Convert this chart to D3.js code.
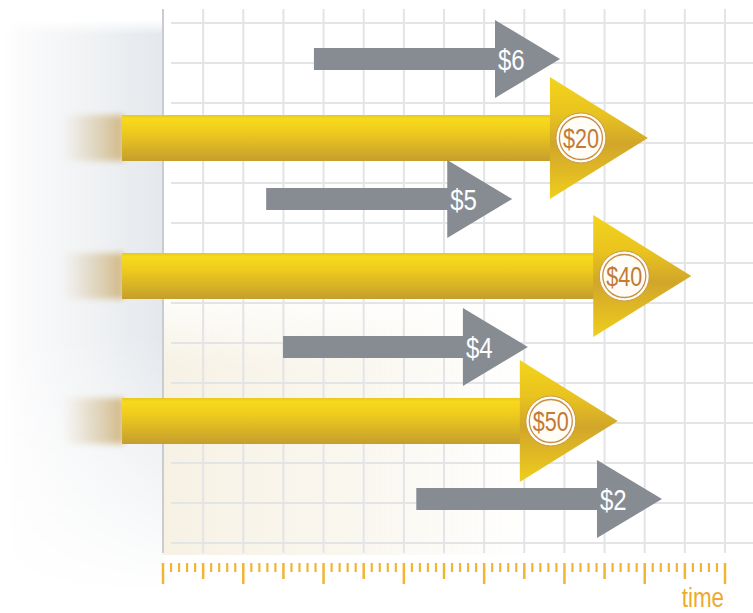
<!DOCTYPE html>
<html>
<head>
<meta charset="utf-8">
<script src="https://cdn.jsdelivr.net/npm/d3@7"></script>
<style>
  html, body { margin: 0; padding: 0; background: #ffffff; }
  svg { display: block; }
</style>
</head>
<body>
<div id="chart"></div>
<script>
// ---- data ----
const labels = ["$6", "$20", "$5", "$40", "$4", "$50", "$2"];
const kinds  = ["gray", "gold", "gray", "gold", "gray", "gold", "gray"];
const starts = [3.76, -1.02, 2.57, -1.02, 2.99, -1.02, 6.31];   // time units
const ends   = [9.89, 12.08, 8.70, 13.16, 9.09, 11.33, 12.43];  // time units (arrow tip)
const lanes  = [0.9, 2.875, 4.4, 6.325, 8.1, 9.95, 11.9];       // row position
const timeTicks = d3.range(0, 15);                                // major ruler ticks
const axisLabel = "time";

// ---- layout ----
const W = 753, H = 613;
const x = d3.scaleLinear().domain([0, 14]).range([163, 725]);
const y = d3.scaleLinear().domain([0, 13]).range([23, 543]);
const font = "'Liberation Sans', Arial, sans-serif";
const NARROW = 0.8;

const svg = d3.select("#chart").append("svg").attr("width", W).attr("height", H);
const defs = svg.append("defs");

// gradients
const lg = (id, x1, y1, x2, y2, stops) => {
  const g = defs.append("linearGradient").attr("id", id)
    .attr("x1", x1).attr("y1", y1).attr("x2", x2).attr("y2", y2);
  stops.forEach(s => g.append("stop").attr("offset", s[0]).attr("stop-color", s[1]).attr("stop-opacity", s[2] == null ? 1 : s[2]));
  return g;
};
lg("leftShade", 0, 0, 1, 0, [[0, "#ffffff"], [0.1, "#fbfbfc"], [0.55, "#f0f2f4"], [1, "#e4e8ec"]]);
lg("leftMaskV", 0, 0, 0, 1, [[0, "#000"], [0.025, "#fff"], [0.55, "#fff"], [0.8, "#777"], [1, "#000"]]);
lg("creamH", 0, 0, 1, 0, [[0, "#f4eedd", 0.8], [0.5, "#f6f1e4", 0.55], [0.9, "#f8f4ea", 0]]);
lg("creamMaskV", 0, 0, 0, 1, [[0, "#000"], [0.3, "#fff"], [1, "#fff"]]);
lg("shaftGold", 0, 0, 0, 1, [[0, "#e9c820"], [0.08, "#f7da1c"], [0.35, "#efcc1d"], [1, "#c59e2d"]]);
lg("headGold", 0, 0, 0, 1, [[0, "#f3d41b"], [0.3, "#e9c31f"], [0.55, "#d1a62a"], [0.8, "#e2bb23"], [1, "#efcf1c"]]);
lg("tailGold", 0, 0, 1, 0, [[0, "#dacaa8", 0], [0.5, "#d6c39c", 0.55], [1, "#d0b47c", 0.95]]);

const mLeft = defs.append("mask").attr("id", "mLeft").attr("maskContentUnits", "objectBoundingBox");
mLeft.append("rect").attr("width", 1).attr("height", 1).attr("fill", "url(#leftMaskV)");
const mCream = defs.append("mask").attr("id", "mCream").attr("maskContentUnits", "objectBoundingBox");
mCream.append("rect").attr("width", 1).attr("height", 1).attr("fill", "url(#creamMaskV)");

defs.append("filter").attr("id", "blur").attr("x", -0.5).attr("y", -0.5).attr("width", 2).attr("height", 2)
  .append("feGaussianBlur").attr("stdDeviation", 3);

// background shades
svg.append("rect").attr("x", 4).attr("y", 20).attr("width", x(0) - 4).attr("height", 573)
  .attr("fill", "url(#leftShade)").attr("mask", "url(#mLeft)");
svg.append("rect").attr("x", x(0)).attr("y", 285).attr("width", 420).attr("height", 270)
  .attr("fill", "url(#creamH)").attr("mask", "url(#mCream)");

// grid
const grid = svg.append("g");
grid.selectAll(".h").data(d3.range(0, 14)).join("line")
  .attr("x1", x(0) + 8).attr("x2", W).attr("y1", d => y(d)).attr("y2", d => y(d))
  .attr("stroke", "#e3e4e6").attr("stroke-width", 2);
grid.selectAll(".v").data(timeTicks.slice(1)).join("line")
  .attr("x1", d => x(d)).attr("x2", d => x(d)).attr("y1", 9).attr("y2", y(13) + 10)
  .attr("stroke", "#e3e4e6").attr("stroke-width", 2);
grid.append("line").attr("x1", x(0)).attr("x2", x(0)).attr("y1", 9).attr("y2", y(13) + 10)
  .attr("stroke", "#c9cdd2").attr("stroke-width", 2);

// ruler
const ruler = svg.append("g");
const rulerTop = 563;
const minor = d3.range(0, 14.0001, 0.2).filter(v => Math.abs(v - Math.round(v)) > 1e-6);
ruler.selectAll(".mi").data(minor).join("line")
  .attr("x1", d => x(d)).attr("x2", d => x(d)).attr("y1", rulerTop).attr("y2", rulerTop + 9)
  .attr("stroke", "#f1b534").attr("stroke-width", 2.2);
ruler.selectAll(".ma").data(timeTicks).join("line")
  .attr("x1", d => x(d)).attr("x2", d => x(d)).attr("y1", rulerTop)
  .attr("y2", d => rulerTop + (d % 2 === 0 ? 21 : 16))
  .attr("stroke", "#f1b534").attr("stroke-width", 2.5);

// narrow text helper
function narrowText(parent, tx, ty, size, fill, str, anchor) {
  return parent.append("text")
    .attr("transform", `translate(${tx},${ty}) scale(${NARROW},1)`)
    .attr("text-anchor", anchor || "start")
    .attr("font-family", font).attr("font-size", size).attr("fill", fill).text(str);
}
narrowText(svg, x(14) - 1, 607, 28, "#eeaa2c", axisLabel, "end");

// arrows
const data = labels.map((l, i) => ({ label: l, kind: kinds[i], start: starts[i], end: ends[i], lane: lanes[i] }));
const spec = {
  gray: { t: 11, h: 39, L: 65 },
  gold: { t: 23, h: 61, L: 98 }
};

data.forEach(d => {
  const s = spec[d.kind];
  const x0 = x(d.start), x1 = x(d.end), cy = y(d.lane), xb = x1 - s.L;
  const g = svg.append("g");
  if (d.kind === "gray") {
    g.append("path")
      .attr("d", `M${x0},${cy - s.t}L${xb},${cy - s.t}L${xb},${cy - s.h}L${x1},${cy}L${xb},${cy + s.h}L${xb},${cy + s.t}L${x0},${cy + s.t}Z`)
      .attr("fill", "#878c93");
    narrowText(g, xb + 3, cy + 10.5, 30, "#ffffff", d.label);
  } else {
    g.append("rect").attr("x", x0 - 60).attr("y", cy - s.t).attr("width", 62).attr("height", 2 * s.t)
      .attr("fill", "url(#tailGold)").attr("filter", "url(#blur)");
    g.append("rect").attr("x", x0).attr("y", cy - s.t).attr("width", xb - x0 + 1).attr("height", 2 * s.t)
      .attr("fill", "url(#shaftGold)");
    g.append("path")
      .attr("d", `M${xb},${cy - s.h}L${x1},${cy}L${xb},${cy + s.h}Z`)
      .attr("fill", "url(#headGold)");
    const cx = xb + 31;
    g.append("circle").attr("cx", cx).attr("cy", cy).attr("r", 25)
      .attr("fill", "#fffdf6").attr("stroke", "#c99a45").attr("stroke-width", 1);
    g.append("circle").attr("cx", cx).attr("cy", cy).attr("r", 21.5)
      .attr("fill", "none").attr("stroke", "#c98e45").attr("stroke-width", 1.3);
    narrowText(g, cx, cy + 9.5, 27, "#c27a37", d.label, "middle");
  }
});
</script>
</body>
</html>
